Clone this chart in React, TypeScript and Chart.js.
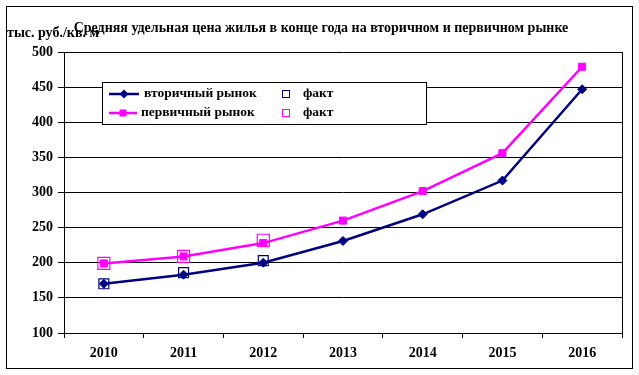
import React, { useEffect, useRef } from 'react';
import { Chart, registerables } from 'chart.js';

Chart.register(...registerables);

const categories = ['2010', '2011', '2012', '2013', '2014', '2015', '2016'];
const secondaryMarket = [170, 183, 200, 231, 269, 317, 447];
const primaryMarket = [199, 209, 228, 260, 302, 356, 479];
const secondaryFact = [170, 186, 203, null, null, null, null];
const primaryFact = [199, 209, 232, null, null, null, null];
const yMin = 100;
const yMax = 500;
const yStep = 50;

const titleText = 'Средняя удельная цена жилья в конце года на вторичном и первичном рынке';
const unitText = 'тыс. руб./кв. м';
const seriesNames = ['вторичный рынок', 'первичный рынок', 'факт', 'факт'];

const FONT = "'Liberation Serif', 'Times New Roman', serif";
const NAVY = '#000080';
const MAGENTA = '#FF00FF';

function stretchText(ctx: CanvasRenderingContext2D, text: string, x: number, y: number, sx: number, align: CanvasTextAlign) {
  ctx.save();
  ctx.translate(x, y);
  ctx.scale(sx, 1);
  ctx.textAlign = align;
  ctx.fillText(text, 0, 0);
  ctx.restore();
}

export default function App() {
  const ref = useRef<HTMLCanvasElement>(null);

  useEffect(() => {
    document.body.style.margin = '0';
    const canvas = ref.current;
    if (!canvas) return;

    const decor = {
      id: 'decor',
      beforeDraw(chart: any) {
        const ctx = chart.ctx as CanvasRenderingContext2D;
        ctx.save();
        ctx.fillStyle = '#ffffff';
        ctx.fillRect(0, 0, chart.width, chart.height);
        ctx.strokeStyle = '#000';
        ctx.lineWidth = 1;
        ctx.strokeRect(6.5, 6.5, 626, 362);
        ctx.restore();
      },
      beforeDatasetsDraw(chart: any) {
        const ctx = chart.ctx as CanvasRenderingContext2D;
        const a = chart.chartArea;
        ctx.save();
        ctx.strokeStyle = '#000';
        ctx.lineWidth = 1;
        ctx.beginPath();
        const x = Math.round(a.right) + 0.5;
        ctx.moveTo(x, a.top);
        ctx.lineTo(x, a.bottom);
        ctx.stroke();
        ctx.restore();
      },
      afterDraw(chart: any) {
        const ctx = chart.ctx as CanvasRenderingContext2D;
        const ds = chart.data.datasets;
        ctx.save();
        ctx.fillStyle = '#000';
        ctx.textBaseline = 'middle';
        ctx.font = `bold 14px ${FONT}`;
        stretchText(ctx, titleText, 321, 28, 1, 'center');
        ctx.font = `bold 14px ${FONT}`;
        stretchText(ctx, unitText, 7, 33, 1, 'left');

        // legend box
        ctx.fillStyle = '#fff';
        ctx.fillRect(102, 82, 324, 42);
        ctx.strokeStyle = '#000';
        ctx.lineWidth = 1;
        ctx.strokeRect(102.5, 82.5, 324, 42);

        const rows = [94, 113];
        // row 1: secondary line with diamond
        ctx.strokeStyle = ds[0].borderColor;
        ctx.lineWidth = 2.5;
        ctx.beginPath();
        ctx.moveTo(109, rows[0]);
        ctx.lineTo(139, rows[0]);
        ctx.stroke();
        ctx.fillStyle = ds[0].borderColor;
        ctx.beginPath();
        ctx.moveTo(124 - 4.5, rows[0]);
        ctx.lineTo(124, rows[0] - 4.5);
        ctx.lineTo(124 + 4.5, rows[0]);
        ctx.lineTo(124, rows[0] + 4.5);
        ctx.closePath();
        ctx.fill();
        // row 2: primary line with square
        ctx.strokeStyle = ds[1].borderColor;
        ctx.beginPath();
        ctx.moveTo(109, rows[1]);
        ctx.lineTo(137, rows[1]);
        ctx.stroke();
        ctx.fillStyle = ds[1].borderColor;
        ctx.fillRect(123 - 3.5, rows[1] - 3.5, 7, 7);
        // fact squares
        ctx.lineWidth = 1;
        ctx.strokeStyle = ds[2].borderColor;
        ctx.strokeRect(282.5, rows[0] - 3.5, 7, 7);
        ctx.strokeStyle = ds[3].borderColor;
        ctx.strokeRect(282.5, rows[1] - 3.5, 7, 7);

        ctx.fillStyle = '#000';
        ctx.font = `bold 13.5px ${FONT}`;
        stretchText(ctx, ds[0].label, 144, rows[0], 1, 'left');
        stretchText(ctx, ds[1].label, 141, rows[1], 1, 'left');
        stretchText(ctx, ds[2].label, 303, rows[0], 1, 'left');
        stretchText(ctx, ds[3].label, 303, rows[1], 1, 'left');
        ctx.restore();
      },
    };

    const chart = new Chart(canvas, {
      type: 'line',
      data: {
        labels: categories,
        datasets: [
          {
            label: seriesNames[0],
            data: secondaryMarket,
            borderColor: NAVY,
            backgroundColor: NAVY,
            borderWidth: 2.5,
            pointStyle: 'rectRot',
            pointRadius: 4.5,
            pointBorderWidth: 1,
            tension: 0,
          },
          {
            label: seriesNames[1],
            data: primaryMarket,
            borderColor: MAGENTA,
            backgroundColor: MAGENTA,
            borderWidth: 2.5,
            pointStyle: 'rect',
            pointRadius: 5,
            pointBorderWidth: 1,
            tension: 0,
          },
          {
            label: seriesNames[2],
            data: secondaryFact,
            borderColor: NAVY,
            backgroundColor: 'rgba(0,0,0,0)',
            showLine: false,
            pointStyle: 'rect',
            pointRadius: 7,
            pointBorderWidth: 1.2,
          },
          {
            label: seriesNames[3],
            data: primaryFact,
            borderColor: MAGENTA,
            backgroundColor: 'rgba(0,0,0,0)',
            showLine: false,
            pointStyle: 'rect',
            pointRadius: 8.5,
            pointBorderWidth: 1.2,
          },
        ],
      },
      options: {
        responsive: false,
        devicePixelRatio: 1,
        animation: false,
        layout: { padding: { left: 0, top: 52, right: 17, bottom: 0 } },
        plugins: {
          legend: { display: false },
          title: { display: false },
          tooltip: { enabled: false },
        },
        scales: {
          x: {
            type: 'category',
            offset: true,
            grid: {
              display: true,
              drawOnChartArea: false,
              offset: true,
              tickLength: 5,
              color: '#000',
              lineWidth: 1,
            },
            border: { display: true, color: '#000', width: 1 },
            ticks: {
              color: '#000',
              font: { family: FONT, size: 14, weight: 'bold' },
              padding: 7,
              maxRotation: 0,
            },
            afterFit(scale: any) {
              scale.height = 42;
            },
          },
          y: {
            min: yMin,
            max: yMax,
            grid: { color: '#000', lineWidth: 1, tickLength: 6 },
            border: { display: true, color: '#000', width: 1 },
            ticks: {
              stepSize: yStep,
              color: '#000',
              font: { family: FONT, size: 14, weight: 'bold' },
              padding: 5,
            },
            afterFit(scale: any) {
              scale.width = 64;
            },
          },
        },
      },
      plugins: [decor],
    } as any);

    return () => chart.destroy();
  }, []);

  return <canvas ref={ref} width={639} height={375} style={{ display: 'block', width: 639, height: 375 }} />;
}
